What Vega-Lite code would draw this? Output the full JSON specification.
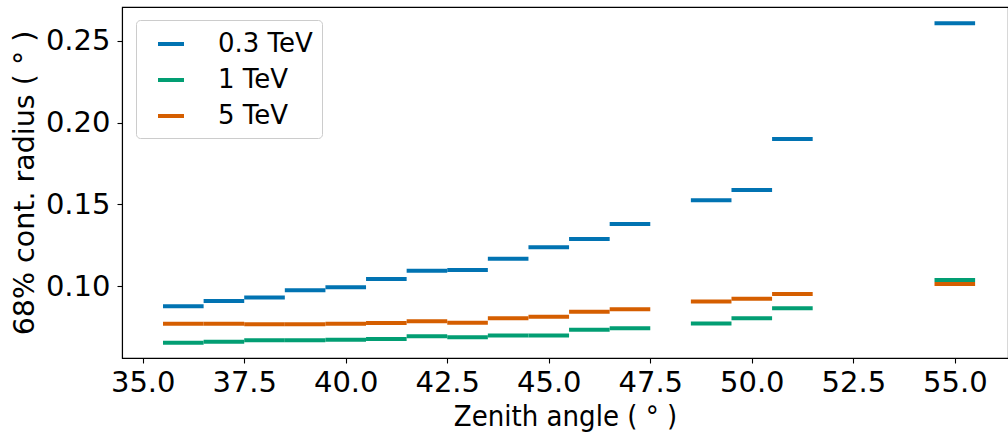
{
  "$schema": "https://vega.github.io/schema/vega-lite/v6.json",
  "width": 886,
  "height": 351,
  "autosize": {"type": "none"},
  "padding": {"left": 122, "top": 7, "right": 0, "bottom": 79},
  "background": "white",
  "config": {
    "view": {"stroke": "black", "strokeWidth": 1.1},
    "font": "DejaVu Sans",
    "axis": {
      "grid": false,
      "labelFont": "DejaVu Sans",
      "titleFont": "DejaVu Sans",
      "labelFontSize": 29,
      "titleFontSize": 29,
      "titleFontWeight": "normal",
      "labelColor": "black",
      "titleColor": "black",
      "domainColor": "black",
      "tickColor": "black",
      "domainWidth": 1.1,
      "tickWidth": 1.1,
      "tickSize": 5
    },
    "legend": {
      "labelFont": "DejaVu Sans",
      "labelFontSize": 26,
      "labelColor": "black"
    }
  },
  "data": {
    "values": [
      {"energy": "0.3 TeV", "zmin": 35.5, "zmax": 36.5, "r68": 0.0876},
      {"energy": "0.3 TeV", "zmin": 36.5, "zmax": 37.5, "r68": 0.0909},
      {"energy": "0.3 TeV", "zmin": 37.5, "zmax": 38.5, "r68": 0.0931},
      {"energy": "0.3 TeV", "zmin": 38.5, "zmax": 39.5, "r68": 0.0974},
      {"energy": "0.3 TeV", "zmin": 39.5, "zmax": 40.5, "r68": 0.0993},
      {"energy": "0.3 TeV", "zmin": 40.5, "zmax": 41.5, "r68": 0.1043},
      {"energy": "0.3 TeV", "zmin": 41.5, "zmax": 42.5, "r68": 0.1094},
      {"energy": "0.3 TeV", "zmin": 42.5, "zmax": 43.5, "r68": 0.1099},
      {"energy": "0.3 TeV", "zmin": 43.5, "zmax": 44.5, "r68": 0.1168},
      {"energy": "0.3 TeV", "zmin": 44.5, "zmax": 45.5, "r68": 0.1237},
      {"energy": "0.3 TeV", "zmin": 45.5, "zmax": 46.5, "r68": 0.1288},
      {"energy": "0.3 TeV", "zmin": 46.5, "zmax": 47.5, "r68": 0.1380},
      {"energy": "0.3 TeV", "zmin": 48.5, "zmax": 49.5, "r68": 0.1525},
      {"energy": "0.3 TeV", "zmin": 49.5, "zmax": 50.5, "r68": 0.1588},
      {"energy": "0.3 TeV", "zmin": 50.5, "zmax": 51.5, "r68": 0.1900},
      {"energy": "0.3 TeV", "zmin": 54.5, "zmax": 55.5, "r68": 0.2608},
      {"energy": "1 TeV", "zmin": 35.5, "zmax": 36.5, "r68": 0.0654},
      {"energy": "1 TeV", "zmin": 36.5, "zmax": 37.5, "r68": 0.0660},
      {"energy": "1 TeV", "zmin": 37.5, "zmax": 38.5, "r68": 0.0668},
      {"energy": "1 TeV", "zmin": 38.5, "zmax": 39.5, "r68": 0.0668},
      {"energy": "1 TeV", "zmin": 39.5, "zmax": 40.5, "r68": 0.0672},
      {"energy": "1 TeV", "zmin": 40.5, "zmax": 41.5, "r68": 0.0676},
      {"energy": "1 TeV", "zmin": 41.5, "zmax": 42.5, "r68": 0.0693},
      {"energy": "1 TeV", "zmin": 42.5, "zmax": 43.5, "r68": 0.0687},
      {"energy": "1 TeV", "zmin": 43.5, "zmax": 44.5, "r68": 0.0697},
      {"energy": "1 TeV", "zmin": 44.5, "zmax": 45.5, "r68": 0.0697},
      {"energy": "1 TeV", "zmin": 45.5, "zmax": 46.5, "r68": 0.0733},
      {"energy": "1 TeV", "zmin": 46.5, "zmax": 47.5, "r68": 0.0742},
      {"energy": "1 TeV", "zmin": 48.5, "zmax": 49.5, "r68": 0.0771},
      {"energy": "1 TeV", "zmin": 49.5, "zmax": 50.5, "r68": 0.0803},
      {"energy": "1 TeV", "zmin": 50.5, "zmax": 51.5, "r68": 0.0864},
      {"energy": "1 TeV", "zmin": 54.5, "zmax": 55.5, "r68": 0.1037},
      {"energy": "5 TeV", "zmin": 35.5, "zmax": 36.5, "r68": 0.0770},
      {"energy": "5 TeV", "zmin": 36.5, "zmax": 37.5, "r68": 0.0770},
      {"energy": "5 TeV", "zmin": 37.5, "zmax": 38.5, "r68": 0.0766},
      {"energy": "5 TeV", "zmin": 38.5, "zmax": 39.5, "r68": 0.0766},
      {"energy": "5 TeV", "zmin": 39.5, "zmax": 40.5, "r68": 0.0770},
      {"energy": "5 TeV", "zmin": 40.5, "zmax": 41.5, "r68": 0.0774},
      {"energy": "5 TeV", "zmin": 41.5, "zmax": 42.5, "r68": 0.0785},
      {"energy": "5 TeV", "zmin": 42.5, "zmax": 43.5, "r68": 0.0776},
      {"energy": "5 TeV", "zmin": 43.5, "zmax": 44.5, "r68": 0.0803},
      {"energy": "5 TeV", "zmin": 44.5, "zmax": 45.5, "r68": 0.0813},
      {"energy": "5 TeV", "zmin": 45.5, "zmax": 46.5, "r68": 0.0843},
      {"energy": "5 TeV", "zmin": 46.5, "zmax": 47.5, "r68": 0.0858},
      {"energy": "5 TeV", "zmin": 48.5, "zmax": 49.5, "r68": 0.0905},
      {"energy": "5 TeV", "zmin": 49.5, "zmax": 50.5, "r68": 0.0923},
      {"energy": "5 TeV", "zmin": 50.5, "zmax": 51.5, "r68": 0.0952},
      {"energy": "5 TeV", "zmin": 54.5, "zmax": 55.5, "r68": 0.1013}
    ]
  },
  "mark": {"type": "rule", "strokeWidth": 4, "strokeCap": "butt"},
  "encoding": {
    "x": {
      "field": "zmin",
      "type": "quantitative",
      "scale": {"domain": [34.49, 56.31], "nice": false, "zero": false},
      "axis": {
        "title": "Zenith angle ( ° )",
        "titleFont": "DejaVu Sans Condensed",
        "values": [35, 37.5, 40, 42.5, 45, 47.5, 50, 52.5, 55],
        "format": ".1f",
        "labelPadding": 5,
        "titlePadding": 5
      }
    },
    "x2": {"field": "zmax"},
    "y": {
      "field": "r68",
      "type": "quantitative",
      "scale": {"domain": [0.056, 0.2708], "nice": false, "zero": false},
      "axis": {
        "title": "68% cont. radius ( ° )",
        "titleFontSize": 28.5,
        "values": [0.10, 0.15, 0.20, 0.25],
        "format": ".2f",
        "labelPadding": 7,
        "titlePadding": 6
      }
    },
    "color": {
      "field": "energy",
      "type": "nominal",
      "scale": {
        "domain": ["0.3 TeV", "1 TeV", "5 TeV"],
        "range": ["#0173B2", "#029E73", "#D55E00"]
      },
      "legend": {
        "title": null,
        "orient": "none",
        "legendX": 14,
        "legendY": 13,
        "symbolType": "stroke",
        "symbolSize": 676,
        "symbolStrokeWidth": 4,
        "labelOffset": 32,
        "symbolOffset": 11,
        "padding": 9,
        "rowPadding": 8,
        "strokeColor": "#cccccc",
        "fillColor": "rgba(255,255,255,0.8)",
        "cornerRadius": 4
      }
    }
  }
}
